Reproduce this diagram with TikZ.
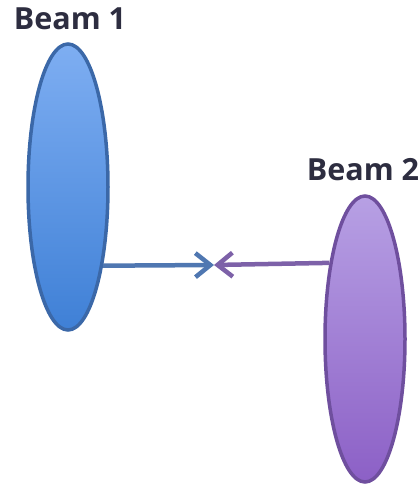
\documentclass[tikz,border=0pt]{standalone}
\usepackage{fontspec}
\setmainfont{Open Sans}
\usepackage{tikz}
\usetikzlibrary{shapes.geometric,positioning,arrows.meta}

\definecolor{beambluetop}{HTML}{7EAEF2}
\definecolor{beambluebot}{HTML}{3F80D6}
\definecolor{beamblueedge}{HTML}{3B68A8}
\definecolor{beampurptop}{HTML}{B7A0E4}
\definecolor{beampurpbot}{HTML}{8C60C6}
\definecolor{beampurpedge}{HTML}{6F4F9E}
\definecolor{labelink}{HTML}{2D2D40}

\tikzset{
  beam/.style={ellipse, minimum width=80pt, minimum height=286pt, inner sep=0pt, line width=3.5pt},
  beamlabel/.style={font=\bfseries\fontsize{30.5}{32}\selectfont, text=labelink, inner sep=0pt},
  push/.style={line width=4.5pt, -{Straight Barb[length=15pt,width=24pt]}}
}

\begin{document}
\begin{tikzpicture}[x=1pt,y=-1pt]
\useasboundingbox (0,0) rectangle (418,490);

% the two beams
\node[beam, draw=beamblueedge, top color=beambluetop, bottom color=beambluebot] (beamone) at (68,187) {};
\node[beam, draw=beampurpedge, top color=beampurptop, bottom color=beampurpbot] (beamtwo) at (365,339) {};

\node[beamlabel, above=12pt of beamone, xshift=2pt] (beamonelabel) {Beam 1};
\node[beamlabel, above=13pt of beamtwo, xshift=-2pt] (beamtwolabel) {Beam 2};

% they meet in the middle
\coordinate (meet) at (214,265);
\draw[push, draw=beamblueedge!90!white] (beamone.-66) -- (meet);
\draw[push, draw=beampurpedge!90!white] (beamtwo.115) -- (meet);
\end{tikzpicture}
\end{document}
